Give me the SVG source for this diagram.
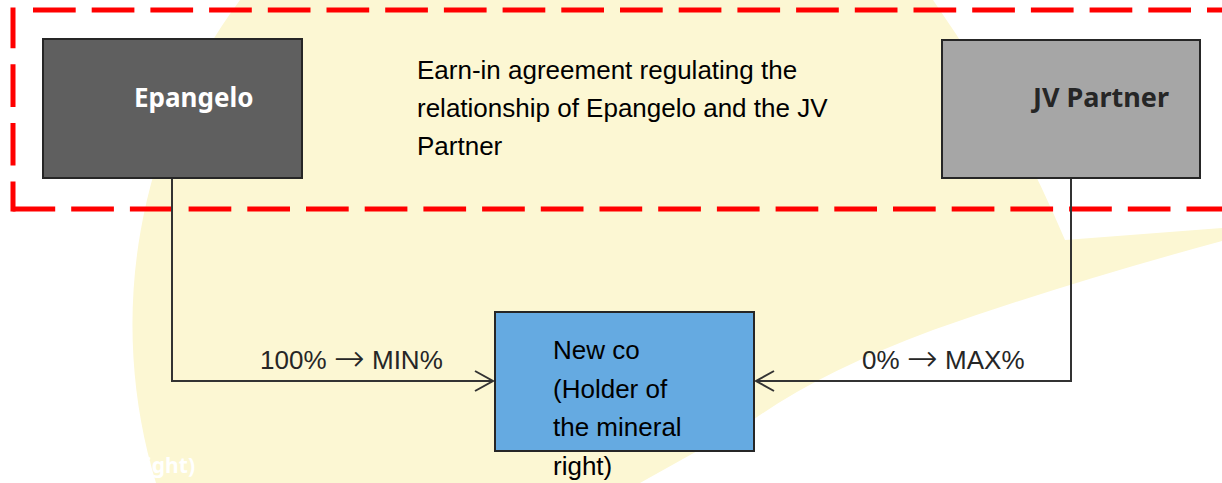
<svg xmlns="http://www.w3.org/2000/svg" width="1222" height="483" viewBox="0 0 1222 483">
<defs>
<style>
.node rect{stroke:#262626;stroke-width:2}
.bold{font-family:"Noto Sans","Open Sans",sans-serif;font-weight:bold;font-size:26px}
.reg{font-family:"Liberation Sans",Arial,sans-serif;font-size:26px}
.arr{font-family:"DejaVu Sans",sans-serif;font-size:37px;font-weight:200}
.conn{fill:none;stroke:#333333;stroke-width:2}
.dash{fill:none;stroke:#ff0000;stroke-width:5;stroke-dasharray:42.7 16}
</style>
<marker id="arrow" markerUnits="userSpaceOnUse" markerWidth="24" markerHeight="26" refX="20" refY="11" orient="auto">
<path d="M2,1 L20,11 L2,21" fill="none" stroke="#333333" stroke-width="2"/>
</marker>
</defs>
<rect width="1222" height="483" fill="#ffffff"/>
<path id="background" d="M240,0 L933,0 Q1010,110 1065,240 L1222,228 L1222,241 Q1067,283 933,330 Q820,372 753,420 Q690,455 640,483 L156,483 A544,544 0 0 1 240,0 Z" fill="#fcf7d3"/>
<g id="frame">
<line class="dash" x1="17" y1="10" x2="1222" y2="10" stroke-dashoffset="42.7"/>
<line class="dash" x1="13" y1="7.5" x2="13" y2="211.5" stroke-dashoffset="2"/>
<line class="dash" x1="12.5" y1="209" x2="1222" y2="209"/>
</g>
<g id="connectors">
<polyline class="conn" points="172,178 172,381 493,381" marker-end="url(#arrow)"/>
<polyline class="conn" points="1071,178 1071,381 756,381" marker-end="url(#arrow)"/>
<text class="reg" x="260" y="369" fill="#262626">100% <tspan class="arr" dy="2">→</tspan><tspan dy="-2"> MIN%</tspan></text>
<text class="reg" x="862" y="369" fill="#262626">0% <tspan class="arr" dy="2">→</tspan><tspan dy="-2"> MAX%</tspan></text>
</g>
<g id="epangelo" class="node">
<rect x="43" y="39" width="259" height="139" fill="#5f5f5f"/>
<text class="bold" x="134" y="107" fill="#ffffff">Epangelo</text>
</g>
<g id="jv-partner" class="node">
<rect x="942" y="40" width="258" height="138" fill="#a6a6a6"/>
<text class="bold" x="1033" y="107" fill="#262626" style="font-size:27px">JV Partner</text>
</g>
<g id="agreement">
<text class="reg" fill="#000000"><tspan x="417" y="79">Earn-in agreement regulating the</tspan><tspan x="417" y="117">relationship of Epangelo and the JV</tspan><tspan x="417" y="155">Partner</tspan></text>
</g>
<g id="newco" class="node">
<rect x="495" y="312" width="259" height="139" fill="#65aae1"/>
<text class="reg" fill="#000000"><tspan x="553" y="359">New co</tspan><tspan x="553" y="397.5">(Holder of</tspan><tspan x="553" y="436">the mineral</tspan><tspan x="553" y="474.5">right)</tspan></text>
</g>
<g id="fragment">
<text class="bold" x="195" y="473" fill="#ffffff" text-anchor="end" style="font-size:21px">ight)</text>
</g>
</svg>
